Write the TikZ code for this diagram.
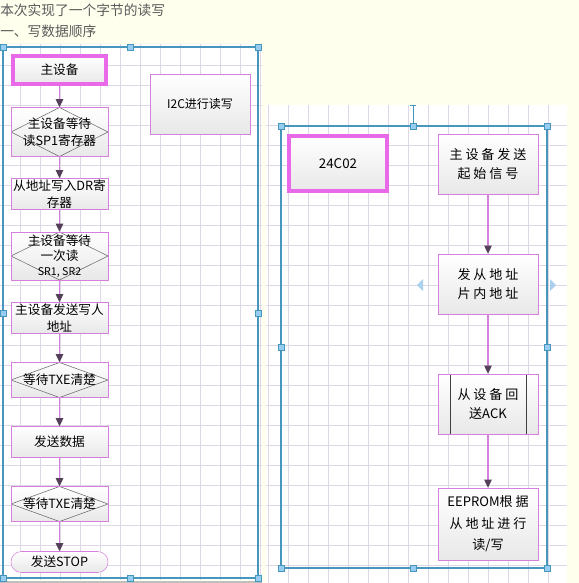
\documentclass[tikz,border=0pt]{standalone}
\usepackage{fontspec}
\setmainfont{Noto Sans CJK SC}
\newfontfamily\widecjk[LetterSpace=22]{Noto Sans CJK SC}
\newcommand\lat[1]{{\rmfamily #1}}
\usetikzlibrary{positioning,calc,arrows.meta,shapes.geometric}

\definecolor{canvas}{RGB}{255,255,238}
\definecolor{gridline}{RGB}{222,216,230}
\definecolor{pinkline}{RGB}{214,128,222}
\definecolor{pinkthick}{RGB}{232,106,232}
\definecolor{tipgray}{RGB}{84,64,88}
\definecolor{selblue}{RGB}{70,150,190}
\definecolor{handlefill}{RGB}{150,205,240}
\definecolor{hintblue}{RGB}{170,208,238}
\definecolor{titlegray}{RGB}{90,90,90}

\tikzset{
  stepbox/.style={draw=pinkline, top color=white, bottom color=black!9, minimum width=72.75pt,
    minimum height=23.25pt, align=center, inner sep=1pt, font=\fontsize{9.5}{12.5}\selectfont},
  startbox/.style={stepbox, draw=pinkthick, line width=2.8pt, minimum width=70pt},
  waitbox/.style={stepbox, fill=white, path picture={
      \shade[top color=white, bottom color=black!9, draw=black!60]
        (path picture bounding box.west) -- (path picture bounding box.north)
        -- (path picture bounding box.east) -- (path picture bounding box.south) -- cycle;}},
  endbox/.style={stepbox, rounded corners=7.8pt, minimum height=15.75pt},
  slavebox/.style={stepbox, minimum width=75pt, minimum height=45pt,
    font=\widecjk\fontsize{9.8}{14}\selectfont},
  sidebox/.style={path picture={
      \draw[black!75] ([xshift=9pt]path picture bounding box.north west) -- ([xshift=9pt]path picture bounding box.south west);
      \draw[black!75] ([xshift=-9pt]path picture bounding box.north east) -- ([xshift=-9pt]path picture bounding box.south east);}},
  flow/.style={draw=pinkline, line width=1pt, -{Triangle[width=5.5pt,length=6pt,color=tipgray]}},
  handle/.style={draw=selblue, fill=handlefill, line width=0.5pt, minimum size=4.5pt, inner sep=0pt},
  title/.style={anchor=west, inner sep=0pt, text=titlegray, font=\fontsize{10.3}{12}\selectfont}
}

\begin{document}
\begin{tikzpicture}[x=0.75pt, y=-0.75pt, node distance=46.5pt]
  \fill[canvas] (0,0) rectangle (579,583);
  \useasboundingbox (0,0) rectangle (579,583);

  \node (T0) [title] at (0,10) {本次实现了一个字节的读写};
  \node (T1) [title] at (0,31) {一、写数据顺序};

  % drawing sheets
  \fill[white] (0,44) rectangle (262,580);
  \foreach \gx in {20,40,...,260} \draw[gridline] (\gx,44) -- (\gx,580);
  \foreach \gy in {65,85,...,565} \draw[gridline] (0,\gy) -- (262,\gy);
  \draw[black!25, line width=1.5pt] (0,581.5) -- (262,581.5);
  \fill[white] (266,105) rectangle (567,583);
  \foreach \gx in {268,288,...,548} \draw[gridline] (\gx,105) -- (\gx,583);
  \foreach \gy in {125,145,...,565} \draw[gridline] (266,\gy) -- (567,\gy);

  \node (W0) [startbox, minimum height=21pt] at (59.5,70) {主设备};
  \node (W1) [waitbox, below of=W0, minimum height=36.75pt] {主设备等待\\读SP1寄存器};
  \node (W2) [stepbox, below of=W1] {从地址写入DR寄\\存器};
  \node (W3) [waitbox, below of=W2, minimum height=36pt, font=\fontsize{9.5}{11.5}\selectfont] {主设备等待\\一次读\\{\fontsize{8}{9}\selectfont SR1, SR2}};
  \node (W4) [stepbox, below of=W3] {主设备发送写人\\地址};
  \node (W5) [waitbox, below of=W4, minimum height=26.25pt] {等待TXE清楚};
  \node (W6) [stepbox, below of=W5] {发送数据};
  \node (W7) [waitbox, below of=W6, minimum height=26.25pt] {等待TXE清楚};
  \node (W8) [endbox, below of=W7, node distance=43.5pt] {发送STOP};
  \node (I2C) [stepbox, minimum width=75pt, minimum height=45pt, font=\fontsize{9}{11}\selectfont] at (200,104) {I2C进行读写};

  \path[flow]
    (W0) edge (W1)
    (W1) edge (W2)
    (W2) edge (W3)
    (W3) edge (W4)
    (W4) edge (W5)
    (W5) edge (W6)
    (W6) edge (W7)
    (W7) edge (W8);

  \node (Chip) [startbox, minimum width=74pt, minimum height=41.5pt, font=\fontsize{10}{12}\selectfont] at (338,163.5) {24C02};
  \node (R0) [slavebox] at (488,164) {主设备发送\\起始信号};
  \node (R1) [slavebox, below of=R0, node distance=90pt] {发从地址\\片内地址};
  \node (R2) [slavebox, sidebox, below of=R1, node distance=90pt] {从设备回\\送\lat{ACK}};
  \node (R3) [slavebox, below of=R2, node distance=90pt, minimum height=54pt,
    font=\widecjk\fontsize{9.8}{16}\selectfont] {\lat{EEPROM}根据\\从地址进行\\读\lat{/}写};

  \path[flow]
    (R0) edge (R1)
    (R1) edge (R2)
    (R2) edge (R3);

  % selection frames
  \draw[selblue, line width=0.8pt] (3,47) rectangle (258,578);
  \draw[selblue, line width=0.8pt] (281,126) rectangle (547,568);
  \draw[selblue, line width=0.6pt] (413,126) -- (413,105);
  \draw[selblue, line width=0.6pt] (410,105) -- (416,105);
  \foreach \hx/\hy in {3/47,130.5/47,258/47,3/313,258/313,3/578,130.5/578,258/578,
      281/126,413/126,547/126,281/347,547/347,281/568,413/568,547/568}
    \node[handle] at (\hx,\hy) {};
  \fill[hintblue] (417,285) -- (423,279) -- (423,291) -- cycle;
  \fill[hintblue] (556,285) -- (550,279) -- (550,291) -- cycle;
\end{tikzpicture}
\end{document}
